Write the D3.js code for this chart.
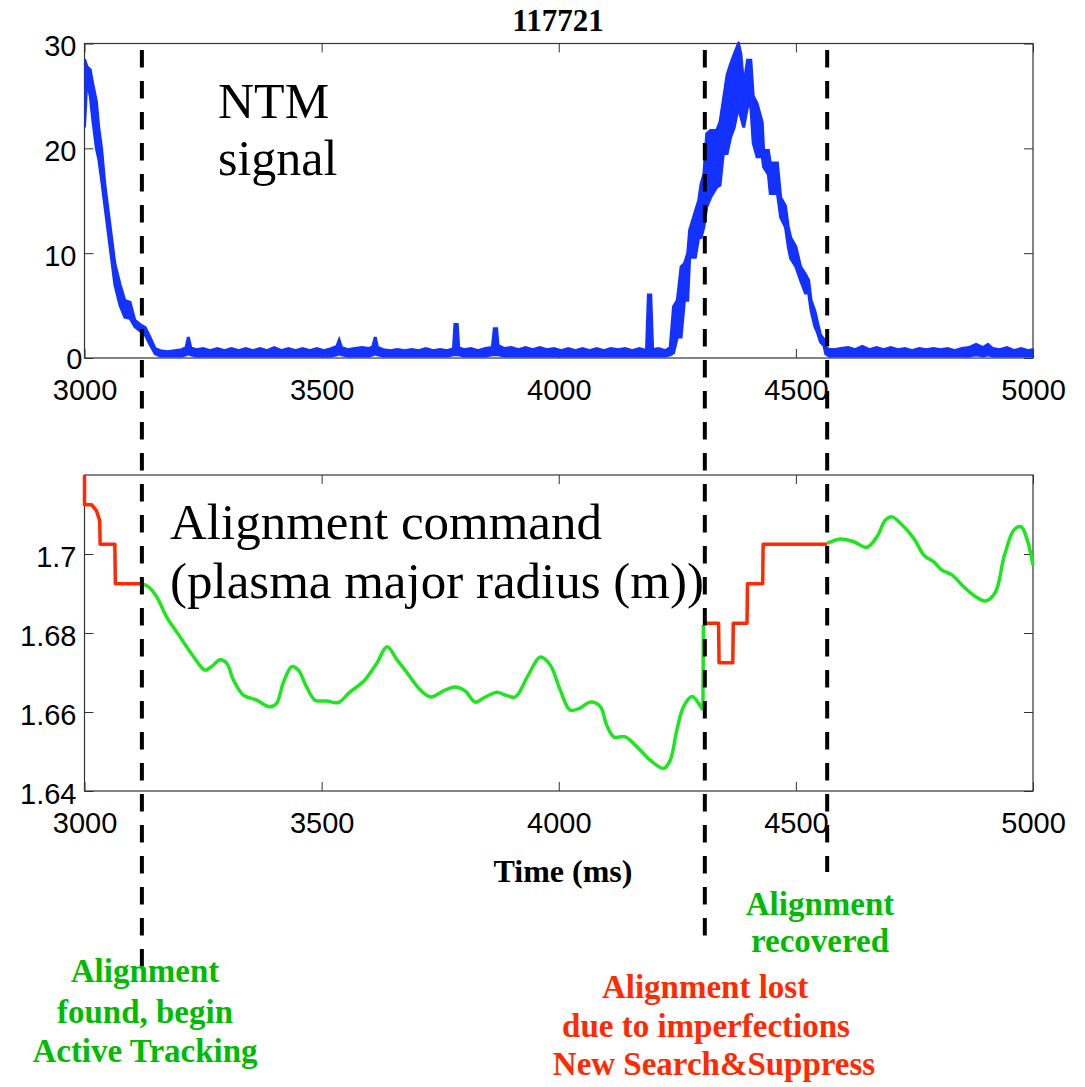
<!DOCTYPE html>
<html>
<head>
<meta charset="utf-8">
<script src="https://cdn.jsdelivr.net/npm/d3@7"></script>
<style>
  body { margin: 0; background: #fff; }
  svg { display: block; }
  .tick text { font-family: "Liberation Sans", Arial, sans-serif; font-size: 29px; fill: #000; }
  .tick line { stroke: #333; }
  .serif { font-family: "Liberation Serif", "Times New Roman", serif; }
</style>
</head>
<body>
<div id="chart"></div>
<script>
// shot number and axis ticks
const shotLabel = "117721";
const timeTicks = [3000, 3500, 4000, 4500, 5000];
const ntmTicks = [0, 10, 20, 30];
const radiusTicks = [1.64, 1.66, 1.68, 1.7];

// NTM signal envelope: [time ms, low, high]
const ntmSamples = [
  [3000, 22, 28.5], [3005, 26.5, 27.8], [3012, 25, 27.5], [3018, 22.5, 26],
  [3025, 20, 24.5], [3030, 19, 22], [3036, 17, 20], [3043, 14.5, 16.5],
  [3050, 12, 14], [3057, 9.5, 11.5], [3064, 7, 9], [3075, 5, 7],
  [3085, 3.9, 5.5], [3096, 3.8, 5.3], [3106, 3, 3.6], [3117, 2.6, 3.2],
  [3128, 2.2, 2.9], [3138, 1.3, 2], [3149, 0.4, 0.9], [3160, 0.2, 0.7],
  [3175, 0.2, 0.6], [3190, 0.2, 0.7], [3205, 0.2, 0.8], [3214, 0.3, 1.0],
  [3219, 0.4, 2.0], [3224, 0.3, 1.0], [3235, 0.2, 0.8], [3250, 0.2, 0.9],
  [3265, 0.2, 0.7], [3280, 0.2, 0.9], [3295, 0.2, 0.7], [3310, 0.2, 0.9],
  [3325, 0.2, 0.7], [3340, 0.2, 0.9], [3355, 0.2, 0.7], [3370, 0.2, 0.9],
  [3385, 0.2, 0.7], [3400, 0.2, 1.0], [3415, 0.2, 0.7], [3430, 0.2, 0.9],
  [3445, 0.2, 0.7], [3460, 0.2, 0.9], [3475, 0.2, 0.7], [3490, 0.2, 0.9],
  [3505, 0.2, 0.7], [3520, 0.2, 0.9], [3532, 0.3, 1.1], [3537, 0.4, 1.7],
  [3542, 0.3, 1.0], [3555, 0.2, 0.8], [3570, 0.2, 0.9], [3585, 0.2, 1.0],
  [3600, 0.2, 0.9], [3608, 0.3, 1.1], [3613, 0.4, 2.0], [3618, 0.3, 1.0],
  [3630, 0.2, 0.8], [3645, 0.2, 0.7], [3660, 0.2, 0.8], [3675, 0.2, 0.7],
  [3690, 0.2, 0.8], [3705, 0.2, 0.7], [3720, 0.2, 0.9], [3735, 0.2, 0.7],
  [3750, 0.2, 0.8], [3765, 0.2, 0.7], [3778, 0.3, 0.9], [3781, 0.3, 3.2],
  [3786, 0.3, 3.2], [3789, 0.3, 1.0], [3800, 0.2, 0.8], [3815, 0.2, 0.9],
  [3830, 0.2, 0.7], [3845, 0.2, 0.9], [3860, 0.3, 1.0], [3864, 0.3, 2.8],
  [3869, 0.3, 2.8], [3872, 0.3, 1.2], [3885, 0.2, 0.9], [3900, 0.2, 1.0],
  [3915, 0.2, 0.8], [3930, 0.2, 1.0], [3945, 0.2, 0.8], [3960, 0.2, 1.0],
  [3975, 0.2, 0.8], [3990, 0.2, 0.9], [4005, 0.2, 0.7], [4020, 0.2, 0.9],
  [4035, 0.2, 0.7], [4050, 0.2, 0.9], [4065, 0.2, 0.7], [4080, 0.2, 0.9],
  [4095, 0.2, 0.7], [4110, 0.2, 0.9], [4125, 0.2, 0.8], [4140, 0.2, 0.9],
  [4155, 0.2, 0.7], [4170, 0.2, 0.9], [4185, 0.2, 0.7], [4189, 0.2, 6.0],
  [4194, 0.2, 6.0], [4198, 0.2, 0.8], [4210, 0.2, 0.9], [4225, 0.2, 0.7],
  [4235, 0.3, 1.0], [4242, 0.5, 4.9], [4250, 2.0, 5.5], [4258, 2.0, 8.7],
  [4265, 5.5, 9.0], [4272, 5.5, 10], [4276, 9.6, 12.2], [4282, 9.6, 13.1],
  [4288, 9.6, 14], [4295, 11.5, 15], [4300, 11.5, 16.6], [4306, 12.5, 17.5],
  [4312, 14.4, 21.4], [4320, 15.3, 21.7], [4333, 16.3, 21.7], [4340, 16.5, 22.5],
  [4347, 19.5, 24.6], [4355, 19.5, 27], [4362, 21, 28], [4370, 22, 29],
  [4379, 24, 30], [4384, 23, 29], [4390, 22, 26], [4398, 24, 28.4],
  [4405, 24, 28.4], [4410, 20.5, 25], [4418, 19.2, 24.3], [4429, 19.2, 22.5],
  [4432, 18.2, 19.8], [4442, 17.5, 19.8], [4446, 15.7, 18.6], [4461, 15.7, 18.6],
  [4468, 13.4, 15.3], [4478, 12.5, 14.5], [4484, 10.6, 12.5], [4489, 9.5, 11.5],
  [4500, 8.7, 10.6], [4510, 7.4, 8.7], [4520, 6.2, 8], [4527, 6.2, 7.4],
  [4532, 4.5, 5.5], [4540, 3, 4.5], [4545, 2.5, 3.5], [4552, 1.5, 2.2],
  [4559, 1.2, 1.8], [4563, 0.4, 1.0], [4570, 0.2, 0.8], [4580, 0.2, 0.8],
  [4595, 0.2, 0.9], [4610, 0.2, 1.0], [4625, 0.2, 0.8], [4640, 0.2, 1.1],
  [4655, 0.2, 0.8], [4670, 0.2, 1.0], [4685, 0.2, 0.8], [4700, 0.2, 1.0],
  [4715, 0.2, 0.8], [4730, 0.2, 0.9], [4745, 0.2, 0.7], [4760, 0.2, 0.9],
  [4775, 0.2, 0.8], [4790, 0.2, 0.9], [4805, 0.2, 0.8], [4820, 0.2, 0.9],
  [4835, 0.2, 0.7], [4850, 0.2, 0.9], [4865, 0.2, 1.0], [4880, 0.3, 1.3],
  [4895, 0.2, 1.0], [4905, 0.3, 1.3], [4915, 0.2, 0.9], [4930, 0.2, 0.8],
  [4945, 0.2, 1.0], [4960, 0.2, 0.7], [4975, 0.2, 0.9], [4990, 0.2, 0.7],
  [5000, 0.2, 0.8]
];

// alignment command (major radius, m): search steps in red, tracking in green
const searchBefore = [
  [3000, 1.72], [3000, 1.7125], [3015, 1.7125], [3025, 1.711], [3032, 1.7085],
  [3033, 1.7025], [3064, 1.7025], [3065, 1.6925], [3121, 1.6925]
];
const trackingBefore = [
  [3121, 1.6925], [3135, 1.6917], [3152, 1.6892], [3173, 1.6841], [3201, 1.6791],
  [3230, 1.674], [3254, 1.6706], [3268, 1.6715], [3286, 1.6732], [3300, 1.6723],
  [3314, 1.6681], [3335, 1.6643], [3363, 1.663], [3391, 1.6613], [3405, 1.6622],
  [3419, 1.6673], [3437, 1.6715], [3451, 1.6706], [3468, 1.6664], [3486, 1.663],
  [3511, 1.6628], [3535, 1.6624], [3560, 1.6651], [3588, 1.6677], [3616, 1.6723],
  [3638, 1.6765], [3659, 1.6732], [3676, 1.6706], [3708, 1.6656], [3730, 1.6638],
  [3761, 1.6656], [3782, 1.6663], [3803, 1.6653], [3824, 1.6625], [3845, 1.6638],
  [3870, 1.665], [3887, 1.6643], [3908, 1.6638], [3936, 1.6694], [3961, 1.6739],
  [3982, 1.6719], [4003, 1.6656], [4024, 1.6605], [4045, 1.661], [4066, 1.6625],
  [4088, 1.6613], [4100, 1.657], [4116, 1.6537], [4140, 1.6537], [4165, 1.6512],
  [4193, 1.6478], [4221, 1.6457], [4235, 1.6478], [4249, 1.6554], [4263, 1.6613],
  [4281, 1.6639], [4295, 1.6622], [4304, 1.6605]
];
const trackingJump = [[4304, 1.6605], [4305, 1.682]];
const searchAfter = [
  [4306, 1.6825], [4337, 1.6825], [4338, 1.6725], [4367, 1.6725], [4368, 1.6825],
  [4397, 1.6825], [4398, 1.6925], [4430, 1.6925], [4431, 1.7025], [4566, 1.7025]
];
const trackingAfter = [
  [4566, 1.7027], [4594, 1.7038], [4622, 1.7031], [4650, 1.7017], [4671, 1.7044],
  [4689, 1.7086], [4703, 1.7094], [4721, 1.7077], [4749, 1.7039], [4770, 1.6997],
  [4791, 1.698], [4808, 1.6959], [4829, 1.6947], [4854, 1.6917], [4879, 1.6892],
  [4900, 1.6881], [4921, 1.6904], [4939, 1.6993], [4960, 1.7061], [4975, 1.7069],
  [4988, 1.7035], [5000, 1.6972]
];

// event markers (ms)
const eventTimes = [3121, 4308, 4566];

const blue = "#1432ff", green = "#1ee61e", red = "#ff2a00";
const textGreen = "#00bb00", textRed = "#ff2a00";

const svg = d3.select("#chart").append("svg").attr("width", 1085).attr("height", 1087);

const x = d3.scaleLinear().domain([3000, 5000]).range([84.5, 1033]);
const yTop = d3.scaleLinear().domain([0, 30]).range([358, 43.5]);
const yBot = d3.scaleLinear().domain([1.64, 1.72]).range([791, 475]);

function drawAxes(y, ticks, fmt, id) {
  const [y0, y1] = y.range();
  const g = svg.append("g");
  g.append("g").attr("transform", `translate(0,${y0})`)
    .call(d3.axisBottom(x).tickValues(timeTicks).tickSize(-9).tickPadding(21).tickFormat(d3.format("d")))
    .call(s => s.select(".domain").remove());
  g.append("g").attr("transform", `translate(0,${y1})`)
    .call(d3.axisTop(x).tickValues(timeTicks).tickSize(-9).tickFormat(""))
    .call(s => s.select(".domain").remove());
  const left = g.append("g").attr("transform", `translate(${x.range()[0]},0)`)
    .call(d3.axisLeft(y).tickValues(ticks).tickSize(-9).tickPadding(8).tickFormat(fmt))
    .call(s => s.select(".domain").remove());
  left.selectAll(".tick text").attr("dy", "0.42em");
  g.append("g").attr("transform", `translate(${x.range()[1]},0)`)
    .call(d3.axisRight(y).tickValues(ticks).tickSize(-9).tickFormat(""))
    .call(s => s.select(".domain").remove());
  g.append("rect")
    .attr("x", x.range()[0]).attr("y", y1)
    .attr("width", x.range()[1] - x.range()[0]).attr("height", y0 - y1)
    .attr("fill", "none").attr("stroke", "#333").attr("stroke-width", 1.2);
  svg.append("clipPath").attr("id", id).append("rect")
    .attr("x", x.range()[0]).attr("y", y1 - 2)
    .attr("width", x.range()[1] - x.range()[0]).attr("height", y0 - y1 + 2);
  return left;
}

// top panel
const topLeft = drawAxes(yTop, ntmTicks, d3.format("d"), "clipTop");
topLeft.selectAll(".tick text").filter(d => d === 0).attr("dx", 6).attr("dy", "0.36em");

svg.append("path")
  .datum(ntmSamples)
  .attr("clip-path", "url(#clipTop)")
  .attr("d", d3.area().x(d => x(d[0])).y0(d => yTop(d[1])).y1(d => yTop(d[2])))
  .attr("fill", blue).attr("stroke", blue).attr("stroke-width", 3)
  .attr("stroke-linejoin", "miter");

// bottom panel
drawAxes(yBot, radiusTicks, d => String(+d.toFixed(2)), "clipBot");

const stepLine = d3.line().x(d => x(d[0])).y(d => yBot(d[1]));
const smoothLine = d3.line().curve(d3.curveCatmullRom).x(d => x(d[0])).y(d => yBot(d[1]));
[[trackingBefore, green, smoothLine], [trackingJump, green, stepLine],
 [trackingAfter, green, smoothLine], [searchBefore, red, stepLine], [searchAfter, red, stepLine]]
  .forEach(([data, col, gen]) => {
    svg.append("path").datum(data)
      .attr("d", gen)
      .attr("fill", "none").attr("stroke", col).attr("stroke-width", 3.5)
      .attr("stroke-linejoin", "round");
  });

// dashed event markers
const markerEnds = [975, 945, 872];
svg.selectAll(".marker").data(eventTimes).enter().append("line")
  .attr("class", "marker")
  .attr("x1", d => x(d)).attr("x2", d => x(d))
  .attr("y1", 50).attr("y2", (d, i) => markerEnds[i])
  .attr("stroke", "#000").attr("stroke-width", 4)
  .attr("stroke-dasharray", "17.5,13.5");

// text
function label(txt, px, py, size, opts = {}) {
  return svg.append("text").attr("class", "serif")
    .attr("x", px).attr("y", py)
    .attr("font-size", size)
    .attr("font-weight", opts.bold ? "bold" : "normal")
    .attr("text-anchor", opts.anchor || "start")
    .attr("fill", opts.color || "#000")
    .text(txt);
}

label(shotLabel, 558, 31, 31, { bold: true, anchor: "middle" });
label("NTM", 218, 118, 50);
label("signal", 218, 175, 50);
label("Alignment command", 170, 539, 51);
label("(plasma major radius (m))", 170, 598, 51);
label("Time (ms)", 563, 882, 32, { bold: true, anchor: "middle" });

[["Alignment", 982], ["found, begin", 1023], ["Active Tracking", 1062]]
  .forEach(([t, py]) => label(t, 145, py, 33, { bold: true, anchor: "middle", color: textGreen }));
[["Alignment", 915], ["recovered", 952]]
  .forEach(([t, py]) => label(t, 820, py, 33, { bold: true, anchor: "middle", color: textGreen }));
[["Alignment lost", 998, 705], ["due to imperfections", 1037, 706], ["New Search&Suppress", 1075, 714]]
  .forEach(([t, py, px]) => label(t, px, py, 33, { bold: true, anchor: "middle", color: textRed }));
</script>
</body>
</html>
